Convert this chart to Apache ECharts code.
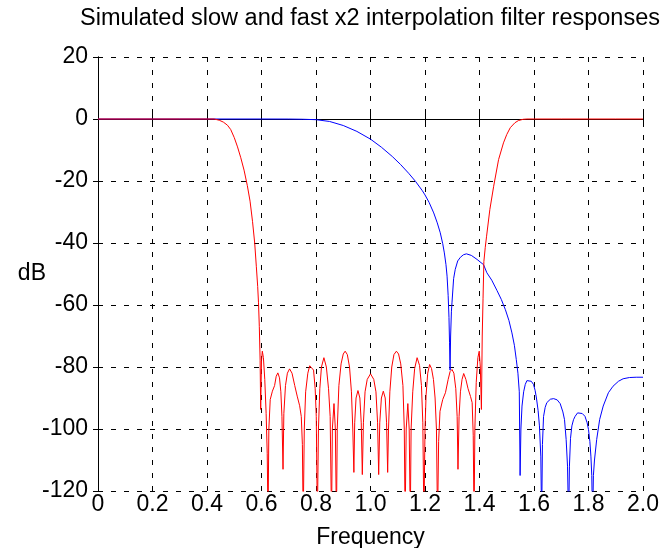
<!DOCTYPE html>
<html>
<head>
<meta charset="utf-8">
<script src="https://cdn.jsdelivr.net/npm/echarts@6/dist/echarts.min.js"></script>
<style>
html,body{margin:0;padding:0;background:#fff;}
#chart{width:665px;height:548px;}
</style>
</head>
<body>
<div id="chart"></div>
<script>
var titleText = 'Simulated slow and fast x2 interpolation filter responses';
var xTickLabels = ['0','0.2','0.4','0.6','0.8','1.0','1.2','1.4','1.6','1.8','2.0'];
var yTickLabels = ['-120','-100','-80','-60','-40','-20','0','20'];

// slow filter (blue): [frequency, dB]
var slowResponse = [
[0,0],[0.2,0],[0.4,0],[0.6,0],[0.7,-0.02],[0.75,-0.08],[0.8,-0.22],[0.85,-0.8],[0.9,-2.1],[0.95,-4.0],[1.0,-6.5],[1.04,-9.1],[1.08,-12.1],[1.11,-14.65],[1.14,-17.5],[1.165,-20.1],[1.19,-23.1],[1.2,-24.5],[1.215,-26.9],[1.232,-30.3],[1.245,-33.5],[1.256,-36.7],[1.265,-40.2],[1.271,-43.2],[1.277,-47],[1.281,-50.7],[1.285,-57],[1.288,-64],[1.290,-72],[1.292,-81],
[1.294,-70],[1.297,-62],[1.299,-59.3],[1.305,-51.5],[1.311,-48.5],[1.320,-45.8],[1.330,-44.6],[1.341,-43.8],[1.352,-43.5],[1.370,-44],[1.391,-45.3],[1.415,-47],[1.427,-49.6],[1.445,-52],[1.464,-55.3],[1.480,-58.2],[1.495,-61.5],[1.508,-65],[1.519,-69],[1.528,-73],[1.535,-77.6],[1.541,-82],[1.546,-88],[1.549,-115],
[1.552,-100],[1.556,-92.6],[1.562,-88],[1.568,-85.6],[1.574,-84.4],[1.580,-84],[1.590,-84.6],[1.598,-85.6],[1.604,-87.5],[1.609,-90],[1.615,-94],[1.620,-99],[1.625,-109],[1.628,-130],
[1.631,-105],[1.635,-96],[1.641,-93],[1.647,-91.5],[1.660,-90.4],[1.672,-90.2],[1.685,-90.6],[1.696,-91.8],[1.706,-94.5],[1.712,-97],[1.718,-103.4],[1.723,-112],[1.727,-130],
[1.730,-112],[1.734,-103],[1.739,-99],[1.745,-97],[1.751,-95.9],[1.760,-94.8],[1.767,-94.6],[1.777,-95],[1.787,-95.9],[1.795,-98],[1.800,-100.2],[1.805,-104],[1.809,-109],[1.812,-115],[1.815,-130],
[1.818,-115],[1.822,-110],[1.830,-103.4],[1.841,-96.9],[1.854,-92.6],[1.873,-88.3],[1.890,-86.2],[1.910,-84.6],[1.927,-83.8],[1.950,-83.4],[1.975,-83.3],[2.0,-83.3]
];

// fast filter (red): [frequency, dB]
var fastResponse = [
[0,0],[0.1,0],[0.2,0],[0.3,0],[0.4,0],[0.426,0],[0.445,-0.4],[0.46,-1],[0.475,-2],[0.487,-3.4],[0.5,-6],[0.512,-9],[0.524,-12.5],[0.536,-16.5],[0.548,-21.5],[0.558,-26.5],[0.567,-33],[0.575,-40],[0.581,-47.5],[0.586,-54],[0.589,-59.3],[0.592,-67],[0.595,-78],[0.597,-93.7],[0.600,-78],[0.603,-74.9],[0.607,-77],[0.612,-84],[0.617,-95],[0.621,-108],[0.624,-130],
[0.627,-100],[0.632,-90.5],[0.640,-87.8],[0.648,-86],[0.654,-83],[0.660,-81.9],[0.666,-83.5],[0.671,-88],[0.675,-96],[0.679,-113],
[0.682,-95],[0.688,-86],[0.695,-82],[0.703,-80.6],[0.712,-82],[0.722,-86],[0.731,-89.4],[0.740,-92.5],[0.746,-96],[0.750,-105],[0.753,-130],
[0.757,-100],[0.762,-88],[0.770,-82],[0.777,-79.6],[0.784,-79],[0.791,-81],[0.797,-87],[0.801,-96],[0.805,-130],
[0.809,-100],[0.814,-87],[0.820,-80],[0.829,-77],[0.838,-80],[0.846,-87],[0.852,-96],[0.857,-130],
[0.860,-100],[0.866,-91.8],[0.871,-100],[0.875,-130],
[0.878,-100],[0.884,-86],[0.892,-79],[0.900,-75.8],[0.907,-74.9],[0.915,-76],[0.923,-80],[0.930,-88],[0.935,-100],[0.939,-114],
[0.942,-98],[0.947,-90],[0.954,-87.6],[0.961,-90],[0.966,-98],[0.970,-114.7],
[0.974,-98],[0.980,-88],[0.988,-84],[1.0,-82.2],[1.012,-84],[1.020,-88],[1.026,-98],[1.030,-114.7],
[1.034,-98],[1.040,-90],[1.047,-87.8],[1.054,-90],[1.059,-98],[1.063,-114],
[1.066,-100],[1.071,-88],[1.078,-80],[1.086,-76],[1.095,-74.9],[1.103,-75.8],[1.111,-79],[1.119,-86],[1.124,-100],[1.127,-130],
[1.131,-100],[1.137,-91.8],[1.142,-100],[1.146,-130],
[1.149,-100],[1.155,-88],[1.162,-80.5],[1.171,-77],[1.180,-79.5],[1.187,-86],[1.192,-98],[1.196,-130],
[1.200,-100],[1.204,-89],[1.210,-82],[1.217,-79.2],[1.224,-80.5],[1.231,-84],[1.237,-90],[1.242,-100],[1.246,-130],
[1.250,-104],[1.255,-94.3],[1.265,-90.5],[1.275,-88.3],[1.285,-84],[1.292,-81.5],[1.299,-80.8],[1.306,-82],[1.313,-87],[1.318,-96],[1.321,-113],
[1.325,-96],[1.330,-88],[1.336,-84],[1.342,-82.1],[1.350,-84],[1.358,-87],[1.367,-89.5],[1.373,-91.5],[1.377,-102],[1.380,-130],
[1.383,-100],[1.388,-85],[1.394,-77],[1.399,-74.9],[1.403,-80],[1.407,-93.7],
[1.410,-70],[1.413,-58],[1.416,-46],[1.421,-41.5],[1.426,-37.8],[1.438,-29.2],[1.452,-21.7],[1.470,-13.1],[1.488,-7.7],[1.500,-5],[1.513,-2.8],[1.530,-1.2],[1.543,-0.5],[1.56,-0.1],[1.574,0],[1.6,0],[1.7,0],[1.8,0],[1.9,0],[2.0,0]
];

var FONT = 'Liberation Sans, Arial, Helvetica, sans-serif';
var FS = 23;
var chart = echarts.init(document.getElementById('chart'), null, {renderer:'canvas', width:665, height:548});
var gridLine = {show:true, lineStyle:{color:'#000', width:1, type:[5,8]}};
var axisLineStyle = {show:true, lineStyle:{color:'#000', width:1}};
chart.setOption({
  animation:false,
  backgroundColor:'#fff',
  grid:{left:98, right:22, top:57, bottom:57, containLabel:false, outerBoundsMode:'none'},
  graphic:[{
    type:'text', x:370, y:19,
    style:{text:titleText, font:'23.5px '+FONT, fill:'#000', align:'center', verticalAlign:'middle', textAlign:'center', textVerticalAlign:'middle'}
  }],
  xAxis:[{
    type:'value', min:0, max:2, interval:0.2, position:'bottom',
    name:'Frequency', nameLocation:'middle', nameGap:35, nameMoveOverlap:false,
    nameTextStyle:{color:'#000', fontSize:FS, fontFamily:FONT},
    axisLine:axisLineStyle,
    axisTick:{show:true, inside:true, length:5, lineStyle:{color:'#000'}},
    axisLabel:{color:'#000', fontSize:FS, fontFamily:FONT, margin:2,
      formatter:function(v){ return xTickLabels[Math.round(v/0.2)]; }},
    splitLine:gridLine
  },{
    type:'value', min:0, max:2, interval:0.2, position:'top',
    axisLine:axisLineStyle,
    axisTick:{show:true, inside:true, length:5, lineStyle:{color:'#000'}},
    axisLabel:{show:false}, splitLine:{show:false}
  }],
  yAxis:[{
    type:'value', min:-120, max:20, interval:20, position:'left',
    name:'dB', nameLocation:'middle', nameRotate:0, nameGap:52, nameMoveOverlap:false,
    nameTextStyle:{color:'#000', fontSize:FS, fontFamily:FONT},
    axisLine:axisLineStyle,
    axisTick:{show:true, inside:true, length:5, lineStyle:{color:'#000'}},
    axisLabel:{color:'#000', fontSize:FS, fontFamily:FONT, margin:10,
      formatter:function(v){ return yTickLabels[Math.round((v+120)/20)]; }},
    splitLine:gridLine
  },{
    type:'value', min:-120, max:20, interval:20, position:'right',
    axisLine:axisLineStyle,
    axisTick:{show:true, inside:true, length:5, lineStyle:{color:'#000'}},
    axisLabel:{show:false}, splitLine:{show:false}
  }],
  series:[{
    name:'slow', type:'line', data:slowResponse, showSymbol:false, clip:true,
    lineStyle:{color:'#0000ff', width:1}, itemStyle:{color:'#0000ff'}, z:2
  },{
    name:'fast', type:'line', data:fastResponse, showSymbol:false, clip:true,
    lineStyle:{color:'#ff0000', width:1}, itemStyle:{color:'#ff0000'}, z:3
  }]
});
</script>
</body>
</html>
